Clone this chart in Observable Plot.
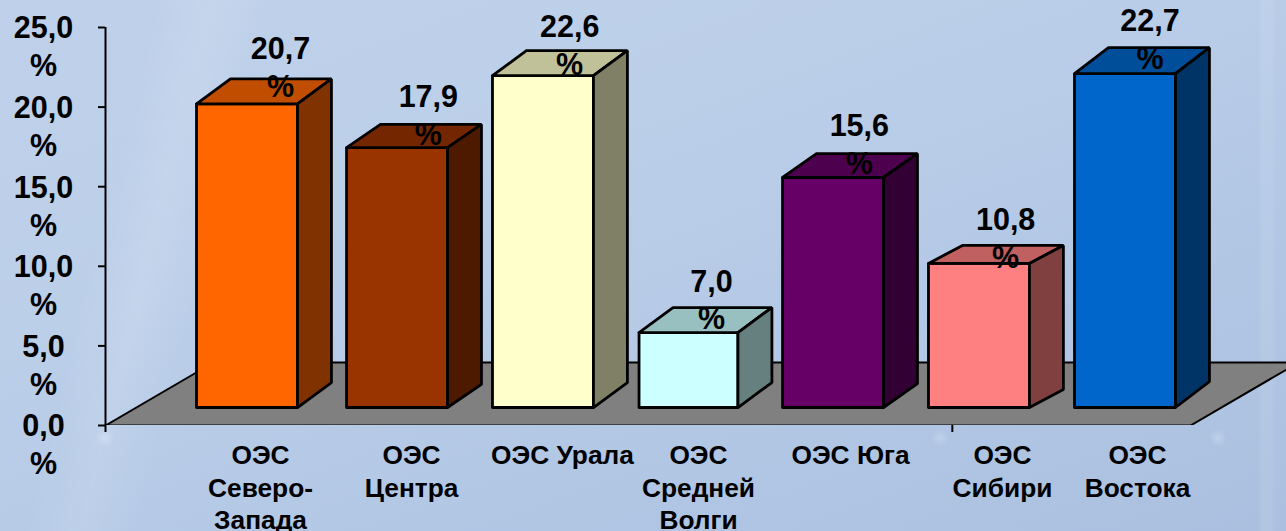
<!DOCTYPE html>
<html lang="ru">
<head>
<meta charset="utf-8">
<script src="https://cdn.jsdelivr.net/npm/d3@7"></script>
<script src="https://cdn.jsdelivr.net/npm/@observablehq/plot@0.6"></script>
<style>
html,body{margin:0;padding:0;width:1286px;height:531px;overflow:hidden}
body{background:
 radial-gradient(circle 9px at 940px 438px,rgba(205,220,242,.5),rgba(205,220,242,0)),
 radial-gradient(circle 9px at 1218px 438px,rgba(205,220,242,.5),rgba(205,220,242,0)),
 radial-gradient(circle 9px at 105px 438px,rgba(215,228,246,.6),rgba(215,228,246,0)),
 linear-gradient(90deg,rgba(255,255,255,0) 1258px,rgba(255,255,255,.08) 1262px,rgba(255,255,255,.08) 1272px,rgba(255,255,255,0) 1276px),
 linear-gradient(104deg,rgba(255,255,255,0) 11%,rgba(255,255,255,.11) 15%,rgba(255,255,255,0) 19%),
 linear-gradient(160deg,#bfd1ea 0%,#bccfe9 35%,#b3c8e5 65%,#abc0e0 100%);}
svg text{font-family:"Liberation Sans",Arial,sans-serif;font-weight:700;fill:#000}
</style>
</head>
<body>
<div id="chart"></div>
<script>
// --- data ---
const categories = ["ОЭС\nСеверо-\nЗапада","ОЭС\nЦентра","ОЭС Урала","ОЭС\nСредней\nВолги","ОЭС Юга","ОЭС\nСибири","ОЭС\nВостока"];
const labels = ["20,7","17,9","22,6","7,0","15,6","10,8","22,7"];
const heights = [20.2,17.46,21.98,5.84,15.58,10.18,22.1];
const yTicks = [0,5,10,15,20,25];
const frontColors = ["#FF6600","#993300","#FFFFCC","#CCFFFF","#660066","#FF8080","#0066CC"];
const topColors   = ["#C04D00","#732600","#C0C099","#99C0C0","#4D004D","#C06060","#004D99"];
const sideColors  = ["#803300","#4D1A00","#808066","#668080","#330033","#804040","#003366"];

// --- layout (chart units, small pixel nudges) ---
const barWs = [0.69,0.69,0.69,0.676,0.69,0.69,0.69], depthX = 0.232, base = 1.13;
const depthYs = [1.57,1.45,1.57,1.57,1.5,1.13,1.63];
const floorX0 = -0.967, floorX1 = 6.448, floorDX = 0.738, floorDY = 3.957;
const barNudge = [0,3.7,3.3,2.5,0.7,0.3,0];
const catNudge = [13.5,18.2,22.8,12.5,18.2,23.8,12.5];
const labelNudge = [33.5,35,30,25.5,27,27,25];
const labelRise = [53,49,47,49,49,41,51];
const font = 30.5, catFont = 26.3;

const poly = pts => [...pts, pts[0]].map(([x,y]) => ({x,y}));
const face = (pts, fill, dx) => Plot.line(poly(pts), {x:"x", y:"y", fill, stroke:"#000", strokeWidth:2.8, strokeLinejoin:"miter", dx});

const barMarks = categories.flatMap((c,i) => {
  const l = i - barWs[i]/2, r = i + barWs[i]/2, h = heights[i], dx = barNudge[i], d = depthYs[i];
  return [
    face([[l,base],[r,base],[r,h],[l,h]], frontColors[i], dx),
    face([[l,h],[r,h],[r+depthX,h+d],[l+depthX,h+d]], topColors[i], dx),
    face([[r,base],[r+depthX,base+d],[r+depthX,h+d],[r,h]], sideColors[i], dx)
  ];
});
const labelMarks = categories.map((c,i) =>
  Plot.text([labels[i]+"\n%"], {text:d=>d, x:()=>i, y:()=>heights[i], dx:labelNudge[i], dy:-labelRise[i]-19,
    lineAnchor:"top", textAnchor:"middle", fontSize:font, lineHeight:38/font, fontWeight:700}));
const catMarks = categories.map((c,i) =>
  Plot.text([c], {text:d=>d, x:()=>i, y:()=>0, dx:catNudge[i], dy:15.5,
    lineAnchor:"top", textAnchor:"middle", fontSize:catFont, lineHeight:32.5/catFont, fontWeight:700}));

const chart = Plot.plot({
  width:1286, height:531,
  marginLeft:105, marginRight:0, marginTop:27, marginBottom:106,
  style:{background:"transparent", overflow:"hidden"},
  x:{domain:[floorX0,7.1037]},
  y:{domain:[0,25]},
  marks:[
    Plot.line(poly([[floorX0,0],[floorX1,0],[floorX1+floorDX,floorDY],[floorX0+floorDX,floorDY]]),
      {x:"x", y:"y", fill:"#808080", stroke:"#000", strokeWidth:2, clip:true}),
    Plot.ruleX([floorX0], {y1:0, y2:25, stroke:"#000", strokeWidth:2}),
    Plot.axisY(yTicks, {anchor:"left", tickSize:7, stroke:"#000", strokeWidth:2, tickFormat:()=>"", label:null}),
    Plot.axisX([floorX0, 4.82], {anchor:"bottom", tickSize:7, stroke:"#000", strokeWidth:2, tickFormat:()=>"", label:null}),
    Plot.text(yTicks, {text:d=>d.toFixed(1).replace(".",",")+"\n%", y:d=>d, frameAnchor:"left", dx:-62, dy:-16,
      lineAnchor:"top", textAnchor:"middle", fontSize:font, lineHeight:38/font, fontWeight:700}),
    ...barMarks,
    ...labelMarks,
    ...catMarks
  ]
});
document.getElementById("chart").append(chart);
</script>
</body>
</html>
